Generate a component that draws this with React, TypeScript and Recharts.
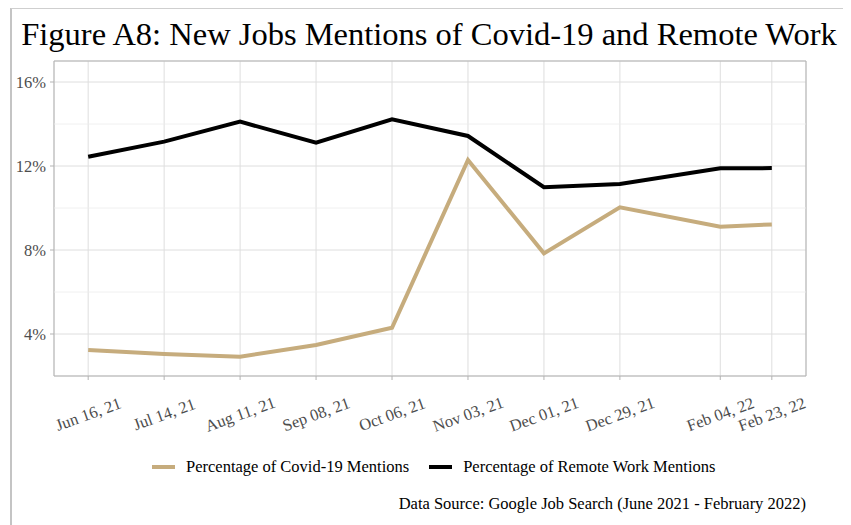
import React from "react";
import {
  LineChart,
  Line,
  XAxis,
  YAxis,
  CartesianGrid,
  ReferenceLine,
  ReferenceArea,
} from "recharts";

const dates = [
  "2021-06-16",
  "2021-07-14",
  "2021-08-11",
  "2021-09-08",
  "2021-10-06",
  "2021-11-03",
  "2021-12-01",
  "2021-12-29",
  "2022-02-04",
  "2022-02-23",
];
const tickLabels = [
  "Jun 16, 21",
  "Jul 14, 21",
  "Aug 11, 21",
  "Sep 08, 21",
  "Oct 06, 21",
  "Nov 03, 21",
  "Dec 01, 21",
  "Dec 29, 21",
  "Feb 04, 22",
  "Feb 23, 22",
];
const covidPct = [3.24, 3.05, 2.92, 3.48, 4.3, 12.29, 7.84, 10.03, 9.11, 9.22];
const remotePct = [12.44, 13.16, 14.11, 13.11, 14.22, 13.43, 10.99, 11.14, 11.89, 11.9];
const yMajor = [4, 8, 12, 16];
const yMinor = [6, 10, 14];

const COVID = "#c6ac7d";
const REMOTE = "#000000";
const FONT = '"Liberation Serif", "Times New Roman", serif';

const DAY = 86400000;
const times = dates.map((d) => Date.parse(d + "T00:00:00Z"));
const span = times[times.length - 1] - times[0];
const xDomain: [number, number] = [times[0] - span * 0.05, times[times.length - 1] + span * 0.05];
const yDomain: [number, number] = [2, 17];

const data = times.map((t, i) => ({
  t,
  covid: covidPct[i],
  remote: remotePct[i],
}));

const labelFor = (t: number) => {
  const i = times.findIndex((x) => Math.abs(x - t) < DAY / 2);
  return i >= 0 ? tickLabels[i] : "";
};

const DateTick = (props: any) => {
  const { x, y, payload } = props;
  return (
    <g transform={`translate(${x},${y + 32})`}>
      <text
        transform="rotate(-20)"
        textAnchor="middle"
        dy="0.35em"
        fill="#4d4d4d"
        fontSize={16.5}
        fontFamily={FONT}
      >
        {labelFor(payload.value)}
      </text>
    </g>
  );
};

export default function App() {
  return (
    <div
      style={{
        position: "relative",
        width: 851,
        height: 525,
        margin: "-8px 0 0 -8px",
        background: "#fff",
        fontFamily: FONT,
        overflow: "hidden",
      }}
    >
      <div
        style={{
          position: "absolute",
          left: 10,
          top: 8,
          right: 0,
          bottom: 0,
          borderTop: "1px solid #cfcfcf",
          borderLeft: "2px solid #c4c4c4",
        }}
      />
      <div
        style={{
          position: "absolute",
          left: 0,
          width: 858,
          top: 18,
          textAlign: "center",
          fontSize: 32.5,
          lineHeight: "32px",
          color: "#000",
          whiteSpace: "nowrap",
        }}
      >
        Figure A8: New Jobs Mentions of Covid-19 and Remote Work
      </div>
      <div style={{ position: "absolute", left: 0, top: 0 }}>
        <LineChart
          width={851}
          height={525}
          data={data}
          margin={{ top: 61, right: 45, left: 0, bottom: 89 }}
        >
          <CartesianGrid stroke="#dedede" strokeWidth={1} />
          {yMinor.map((v) => (
            <ReferenceLine key={v} y={v} stroke="#ececec" strokeWidth={0.8} />
          ))}
          <ReferenceArea
            x1={xDomain[0]}
            x2={xDomain[1]}
            y1={yDomain[0]}
            y2={yDomain[1]}
            fill="none"
            stroke="#b3b3b3"
            strokeWidth={1}
            fillOpacity={0}
          />
          <XAxis
            dataKey="t"
            type="number"
            scale="linear"
            domain={xDomain}
            ticks={times}
            allowDataOverflow
            axisLine={false}
            tickLine={{ stroke: "#b3b3b3" }}
            tickSize={4}
            height={60}
            interval={0}
            tick={<DateTick />}
          />
          <YAxis
            type="number"
            domain={yDomain}
            ticks={yMajor}
            allowDataOverflow
            width={54}
            axisLine={false}
            tickLine={{ stroke: "#b3b3b3" }}
            tickSize={4}
            tickMargin={4}
            tickFormatter={(v) => `${v}%`}
            tick={{ fill: "#4d4d4d", fontSize: 16.5, fontFamily: FONT }}
          />
          <Line
            type="linear"
            dataKey="covid"
            stroke={COVID}
            strokeWidth={4}
            dot={false}
            isAnimationActive={false}
          />
          <Line
            type="linear"
            dataKey="remote"
            stroke={REMOTE}
            strokeWidth={4}
            dot={false}
            isAnimationActive={false}
          />
        </LineChart>
      </div>
      {/* legend */}
      <div
        style={{
          position: "absolute",
          top: 457,
          left: 152,
          display: "flex",
          alignItems: "center",
          fontSize: 16.5,
          lineHeight: "20px",
          color: "#000",
          whiteSpace: "nowrap",
        }}
      >
        <span style={{ width: 23, height: 4, background: COVID, display: "inline-block" }} />
        <span style={{ marginLeft: 11 }}>Percentage of Covid-19 Mentions</span>
        <span
          style={{ width: 23, height: 4, background: REMOTE, display: "inline-block", marginLeft: 20 }}
        />
        <span style={{ marginLeft: 11 }}>Percentage of Remote Work Mentions</span>
      </div>
      <div
        style={{
          position: "absolute",
          top: 494,
          right: 45,
          fontSize: 16.5,
          lineHeight: "20px",
          color: "#000",
          whiteSpace: "nowrap",
        }}
      >
        Data Source: Google Job Search (June 2021 - February 2022)
      </div>
    </div>
  );
}
